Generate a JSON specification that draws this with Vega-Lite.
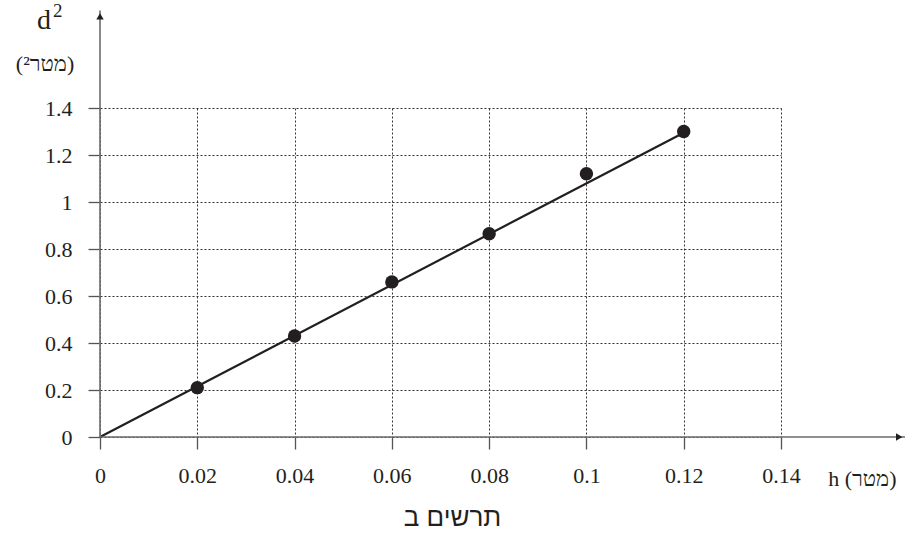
{
  "$schema": "https://vega.github.io/schema/vega-lite/v6.json",
  "width": 681,
  "height": 329,
  "autosize": {"type": "none"},
  "padding": {"left": 100, "top": 108, "right": 128, "bottom": 100},
  "background": "white",
  "config": {"view": {"stroke": null}, "font": "Liberation Serif"},
  "datasets": {
    "points": [
      {"h": 0.02, "d2": 0.21},
      {"h": 0.04, "d2": 0.43},
      {"h": 0.06, "d2": 0.66},
      {"h": 0.08, "d2": 0.865},
      {"h": 0.1, "d2": 1.12},
      {"h": 0.12, "d2": 1.3}
    ],
    "fit": [
      {"h": 0, "d2": 0},
      {"h": 0.12, "d2": 1.295}
    ],
    "axislines": [
      {"h": 0, "d2": 0, "h_end": 0.1655, "d2_end": 0},
      {"h": 0, "d2": 0, "h_end": 0, "d2_end": 1.815}
    ],
    "arrows": [
      {"h": 0.1643, "d2": 0, "shape": "triangle-right"},
      {"h": 0, "d2": 1.79, "shape": "triangle-up"}
    ],
    "one": [{}]
  },
  "layer": [
    {
      "data": {"name": "fit"},
      "mark": {"type": "line", "color": "#231f20", "strokeWidth": 2.2},
      "encoding": {
        "x": {
          "field": "h", "type": "quantitative",
          "scale": {"domain": [0, 0.14], "nice": false, "zero": false},
          "axis": {
            "values": [0, 0.02, 0.04, 0.06, 0.08, 0.1, 0.12, 0.14],
            "format": "~g",
            "grid": true, "gridDash": [2, 2], "gridColor": "#333", "gridWidth": 1, "gridOpacity": 1,
            "domain": false,
            "ticks": true, "tickSize": 12, "tickColor": "#555", "tickWidth": 1.3,
            "labelFont": "Liberation Serif", "labelFontSize": 22, "labelColor": "#231f20",
            "labelPadding": 16, "labelFlush": false, "labelOverlap": false,
            "title": "תרשים ב",
            "titleFont": "Liberation Sans", "titleFontSize": 26, "titleFontWeight": "normal",
            "titleColor": "#231f20", "titleX": 352, "titleY": 88, "titleBaseline": "alphabetic",
            "titleAnchor": "middle", "titleAlign": "center"
          }
        },
        "y": {
          "field": "d2", "type": "quantitative",
          "scale": {"domain": [0, 1.4], "nice": false, "zero": false},
          "axis": {
            "values": [0, 0.2, 0.4, 0.6, 0.8, 1, 1.2, 1.4],
            "format": "~g",
            "grid": true, "gridDash": [2, 2], "gridColor": "#333", "gridWidth": 1, "gridOpacity": 1,
            "domain": false,
            "ticks": true, "tickSize": 12, "tickColor": "#555", "tickWidth": 1.3,
            "labelFont": "Liberation Serif", "labelFontSize": 22, "labelColor": "#231f20",
            "labelPadding": 16, "labelFlush": false, "labelOverlap": false,
            "title": null
          }
        }
      }
    },
    {
      "data": {"name": "axislines"},
      "mark": {"type": "rule", "color": "#6b6b6b", "strokeWidth": 1.6},
      "encoding": {
        "x": {"field": "h", "type": "quantitative"},
        "x2": {"field": "h_end"},
        "y": {"field": "d2", "type": "quantitative"},
        "y2": {"field": "d2_end"}
      }
    },
    {
      "data": {"name": "arrows"},
      "mark": {"type": "point", "filled": true, "color": "#231f20", "opacity": 1, "size": 55},
      "encoding": {
        "x": {"field": "h", "type": "quantitative"},
        "y": {"field": "d2", "type": "quantitative"},
        "shape": {"field": "shape", "type": "nominal", "scale": null}
      }
    },
    {
      "data": {"name": "points"},
      "mark": {"type": "point", "filled": true, "color": "#231f20", "opacity": 1, "size": 180, "shape": "circle"},
      "encoding": {
        "x": {"field": "h", "type": "quantitative"},
        "y": {"field": "d2", "type": "quantitative"}
      }
    },
    {
      "data": {"name": "one"},
      "mark": {"type": "text", "text": "d", "font": "Liberation Serif", "fontSize": 28, "align": "center", "baseline": "alphabetic", "color": "#231f20"},
      "encoding": {
        "x": {"datum": -0.0115, "type": "quantitative"},
        "y": {"datum": 1.735, "type": "quantitative"}
      }
    },
    {
      "data": {"name": "one"},
      "mark": {"type": "text", "text": "2", "font": "Liberation Serif", "fontSize": 19, "align": "left", "baseline": "alphabetic", "dx": 9, "dy": -12, "color": "#231f20"},
      "encoding": {
        "x": {"datum": -0.0115, "type": "quantitative"},
        "y": {"datum": 1.735, "type": "quantitative"}
      }
    },
    {
      "data": {"name": "one"},
      "mark": {"type": "text", "text": "(מטר²)", "font": "Liberation Serif", "fontSize": 22, "align": "center", "baseline": "alphabetic", "color": "#231f20"},
      "encoding": {
        "x": {"datum": -0.0113, "type": "quantitative"},
        "y": {"datum": 1.557, "type": "quantitative"}
      }
    },
    {
      "data": {"name": "one"},
      "mark": {"type": "text", "text": "h (מטר)", "font": "Liberation Serif", "fontSize": 22, "align": "left", "baseline": "alphabetic", "color": "#231f20"},
      "encoding": {
        "x": {"datum": 0.1497, "type": "quantitative"},
        "y": {"datum": -0.2085, "type": "quantitative"}
      }
    }
  ]
}
